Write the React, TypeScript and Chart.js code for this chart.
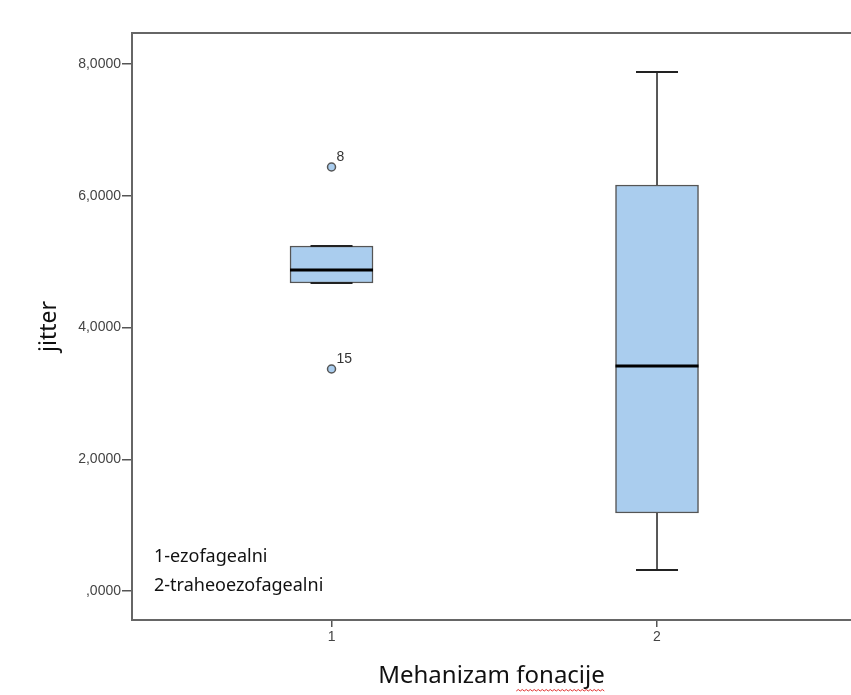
import React, { useEffect, useRef } from 'react';
import { Chart, registerables } from 'chart.js';

Chart.register(...registerables);

// ---- data ----
const categories = ['1', '2'];
const positions = [1, 2];
const whiskerLow = [4.675, 0.32];
const q1 = [4.675, 1.184];
const median = [4.873, 3.416];
const q3 = [5.237, 6.163];
const whiskerHigh = [5.237, 7.879];
const outlierPositions = [1, 1];
const outlierValues = [6.436, 3.37];
const outlierLabels = ['8', '15'];
const yTicks = [0, 2, 4, 6, 8];
const legendLines = ['1-ezofagealni', '2-traheoezofagealni'];
const xTitleWords = ['Mehanizam', 'fonacije'];

const BOX_FILL = '#aacdee';
const BOX_EDGE = '#555555';
const BOX_WIDTH = 83;
const CAP_WIDTH = 42;
const TITLE_FONT = '"Noto Sans", "DejaVu Sans", sans-serif';
const TICK_FONT = '"Liberation Sans", Arial, sans-serif';
const X_TITLE_SIZE = 24;

const fmt = (v: number) => {
  const s = v.toFixed(4).replace('.', ',');
  return s.startsWith('0,') ? s.slice(1) : s;
};

const boxExtras = {
  id: 'boxExtras',
  afterDatasetsDraw(chart: any) {
    const { ctx, chartArea } = chart;
    const xs = chart.scales.x;
    const ys = chart.scales.y;
    ctx.save();
    // top frame line
    ctx.strokeStyle = '#666666';
    ctx.lineWidth = 2;
    ctx.beginPath();
    ctx.moveTo(chartArea.left - 1, chartArea.top);
    ctx.lineTo(chartArea.right, chartArea.top);
    ctx.stroke();

    positions.forEach((p, i) => {
      const x = xs.getPixelForValue(p);
      const yq1 = ys.getPixelForValue(q1[i]);
      const yq3 = ys.getPixelForValue(q3[i]);
      const ylo = ys.getPixelForValue(whiskerLow[i]);
      const yhi = ys.getPixelForValue(whiskerHigh[i]);
      ctx.strokeStyle = '#222222';
      ctx.lineWidth = 1.5;
      ctx.beginPath();
      ctx.moveTo(x, yq3);
      ctx.lineTo(x, yhi);
      ctx.moveTo(x, yq1);
      ctx.lineTo(x, ylo);
      ctx.stroke();
      ctx.lineWidth = 2;
      ctx.beginPath();
      ctx.moveTo(x - CAP_WIDTH / 2, yhi);
      ctx.lineTo(x + CAP_WIDTH / 2, yhi);
      ctx.moveTo(x - CAP_WIDTH / 2, ylo);
      ctx.lineTo(x + CAP_WIDTH / 2, ylo);
      ctx.stroke();
      // median
      const ym = ys.getPixelForValue(median[i]);
      ctx.strokeStyle = '#000000';
      ctx.lineWidth = 3;
      ctx.beginPath();
      ctx.moveTo(x - BOX_WIDTH / 2, ym);
      ctx.lineTo(x + BOX_WIDTH / 2, ym);
      ctx.stroke();
    });

    // outlier labels
    ctx.fillStyle = '#333333';
    ctx.font = '14px ' + TICK_FONT;
    ctx.textAlign = 'left';
    ctx.textBaseline = 'middle';
    outlierValues.forEach((v, i) => {
      const x = xs.getPixelForValue(outlierPositions[i]);
      const y = ys.getPixelForValue(v);
      ctx.fillText(outlierLabels[i], x + 5, y - 10);
    });

    // legend text
    ctx.fillStyle = '#111111';
    ctx.font = '18px ' + TITLE_FONT;
    legendLines.forEach((t, i) => {
      ctx.fillText(t, chartArea.left + 22, 557 + i * 29);
    });

    // spell-check wavy underline under second title word
    ctx.font = X_TITLE_SIZE + 'px ' + TITLE_FONT;
    const full = xTitleWords.join(' ');
    const W = ctx.measureText(full).width;
    const w1 = ctx.measureText(xTitleWords[0] + ' ').width;
    const cx = (xs.left + xs.right) / 2;
    const start = cx - W / 2 + w1;
    const end = cx + W / 2;
    const yw = 691;
    ctx.strokeStyle = '#e03030';
    ctx.lineWidth = 1;
    ctx.beginPath();
    let up = true;
    ctx.moveTo(start, yw);
    for (let xx = start + 2; xx <= end; xx += 2) {
      ctx.lineTo(xx, up ? yw - 1.5 : yw);
      up = !up;
    }
    ctx.stroke();
    ctx.restore();
  },
};

export default function App() {
  const ref = useRef<HTMLCanvasElement | null>(null);
  useEffect(() => {
    if (!ref.current) return;
    const chart = new Chart(ref.current, {
      type: 'bar',
      data: {
        datasets: [
          {
            type: 'bar',
            data: positions.map((p, i) => ({ x: p, y: [q1[i], q3[i]] })) as any,
            backgroundColor: BOX_FILL,
            borderColor: BOX_EDGE,
            borderWidth: 1.5,
            borderSkipped: false,
            barThickness: BOX_WIDTH,
          } as any,
          {
            type: 'scatter',
            data: outlierValues.map((v, i) => ({ x: outlierPositions[i], y: v })),
            pointRadius: 4,
            pointBackgroundColor: BOX_FILL,
            pointBorderColor: BOX_EDGE,
            pointBorderWidth: 1.5,
          } as any,
        ],
      },
      options: {
        animation: false,
        responsive: false,
        devicePixelRatio: 1,
        layout: { autoPadding: false, padding: { top: 33, left: 0, right: 0, bottom: 0 } },
        plugins: { legend: { display: false }, tooltip: { enabled: false } },
        scales: {
          x: {
            type: 'linear',
            offset: false,
            min: 0.387,
            max: 2.596,
            afterBuildTicks: (s: any) => {
              s.ticks = positions.map((v) => ({ value: v }));
            },
            afterFit: (s: any) => {
              s.height = 75;
              s.paddingLeft = 0;
              s.paddingRight = 0;
            },
            ticks: {
              callback: (v: any) => categories[positions.indexOf(Number(v))],
              color: '#444444',
              font: { family: TICK_FONT, size: 14 },
              padding: 2,
              maxRotation: 0,
            },
            grid: { offset: false, drawOnChartArea: false, drawTicks: true, tickLength: 7, color: '#555555', lineWidth: 1.5 },
            border: { display: true, color: '#666666', width: 2 },
            title: {
              display: true,
              text: xTitleWords.join(' '),
              color: '#111111',
              font: { family: TITLE_FONT, size: X_TITLE_SIZE },
              padding: { top: 0, bottom: 4 },
            },
          },
          y: {
            type: 'linear',
            min: -0.44,
            max: 8.47,
            afterBuildTicks: (s: any) => {
              s.ticks = yTicks.map((v) => ({ value: v }));
            },
            afterFit: (s: any) => {
              s.width = 132;
              s.paddingTop = 0;
              s.paddingBottom = 0;
            },
            ticks: {
              callback: (v: any) => fmt(Number(v)),
              color: '#444444',
              font: { family: TICK_FONT, size: 14 },
              padding: 1,
            },
            grid: { drawOnChartArea: false, drawTicks: true, tickLength: 10, color: '#555555', lineWidth: 1.5 },
            border: { display: true, color: '#666666', width: 2 },
            title: {
              display: true,
              text: 'jitter',
              color: '#111111',
              font: { family: TITLE_FONT, size: 23 },
              padding: { top: 36, bottom: 0 },
            },
          },
        },
      },
      plugins: [boxExtras],
    } as any);
    return () => chart.destroy();
  }, []);
  return (
    <div style={{ position: 'absolute', left: 0, top: 0, width: 851, height: 695, background: '#ffffff' }}>
      <canvas ref={ref} width={851} height={695} style={{ display: 'block' }} />
    </div>
  );
}
